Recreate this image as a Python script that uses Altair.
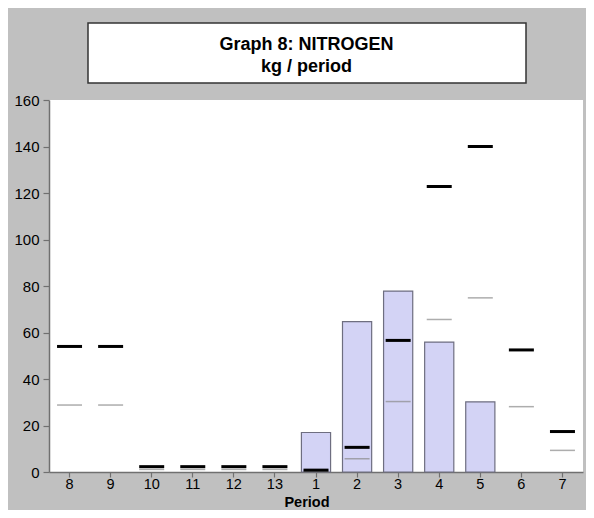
import altair as alt
import pandas as pd

periods = ["8", "9", "10", "11", "12", "13", "1", "2", "3", "4", "5", "6", "7"]
bar_values = [None, None, None, None, None, None, 17.0, 64.7, 77.8, 55.9, 30.2, None, None]
black_values = [54.0, 54.0, 2.3, 2.3, 2.3, 2.3, 0.8, 10.6, 56.6, 122.8, 140.0, 52.5, 17.4]
gray_values = [28.8, 28.8, 1.1, 1.1, 1.1, 1.1, 0.3, 5.7, 30.3, 65.6, 74.9, 28.1, 9.3]
title_lines = ["Graph 8: NITROGEN", "kg / period"]
y_ticks = list(range(0, 170, 10))

df = pd.DataFrame({"Period": periods, "bar": bar_values, "black": black_values, "gray": gray_values})
bars_df = df.dropna(subset=["bar"])

FONT = "Liberation Sans"
TOP = 92
PLOT_H = 372

x_enc = alt.X(
    "Period:N",
    sort=periods,
    scale=alt.Scale(domain=periods, paddingInner=0.29, paddingOuter=0.145),
    axis=alt.Axis(
        title="Period",
        titleFont=FONT,
        titleFontSize=14.5,
        titleFontWeight="bold",
        titleColor="black",
        titleX=257.5,
        titleY=34.5,
        titleBaseline="alphabetic",
        labelAngle=0,
        labelFont=FONT,
        labelFontSize=14.5,
        labelColor="black",
        labelPadding=0,
        tickSize=5,
        tickColor="#707070",
        tickWidth=1.2,
        domainColor="#707070",
        domainWidth=1.5,
    ),
)

y_scale = alt.Scale(domain=[0, 160], nice=False)
y_axis = alt.Axis(
    title=None,
    values=y_ticks,
    labelExpr="datum.value % 20 === 0 ? datum.label : ''",
    labelFont=FONT,
    labelFontSize=15,
    labelColor="black",
    labelPadding=4,
    tickSize={"condition": {"test": "datum.value % 20 === 0", "value": 6}, "value": 3},
    tickColor="#707070",
    tickWidth=1.2,
    domainColor="#707070",
    domainWidth=1.5,
    grid=False,
)

bars = alt.Chart(bars_df).mark_bar(
    fill="#d3d3f5", stroke="#6e6e80", strokeWidth=1.2
).encode(
    x=x_enc,
    y=alt.Y("bar:Q", scale=y_scale, axis=y_axis),
)

gray_ticks = alt.Chart(df).mark_tick(
    color="#8a8a8a", thickness=1.5, size=25
).encode(
    x=alt.X("Period:N", sort=periods),
    y=alt.Y("gray:Q", scale=y_scale),
)

black_ticks = alt.Chart(df).mark_tick(
    color="black", thickness=3, size=25, opacity=1
).encode(
    x=alt.X("Period:N", sort=periods),
    y=alt.Y("black:Q", scale=y_scale),
)

deco = pd.DataFrame({"line1": [title_lines[0]], "line2": [title_lines[1]]})

title_box = alt.Chart(deco).mark_rect(
    fill="white", stroke="#333333", strokeWidth=1.5
).encode(
    x=alt.value(39), x2=alt.value(477), y=alt.value(-77), y2=alt.value(-17)
)

title1 = alt.Chart(deco).mark_text(
    font=FONT, fontSize=18, fontWeight="bold", color="black", align="center", baseline="alphabetic"
).encode(text="line1:N", x=alt.value(257.5), y=alt.value(-50))

title2 = alt.Chart(deco).mark_text(
    font=FONT, fontSize=18, fontWeight="bold", color="black", align="center", baseline="alphabetic"
).encode(text="line2:N", x=alt.value(257.5), y=alt.value(-28))

chart = alt.layer(bars, gray_ticks, black_ticks, title_box, title1, title2).properties(
    width=534,
    height=PLOT_H,
    background="#c0c0c0",
    padding={"left": 41, "top": TOP, "right": 3, "bottom": 502 - TOP - PLOT_H},
    autosize=alt.AutoSizeParams(type="none"),
).configure_view(
    fill="white", stroke="white", strokeWidth=0
)

chart.save("out.html", embed_options={"renderer": "svg", "actions": False})
